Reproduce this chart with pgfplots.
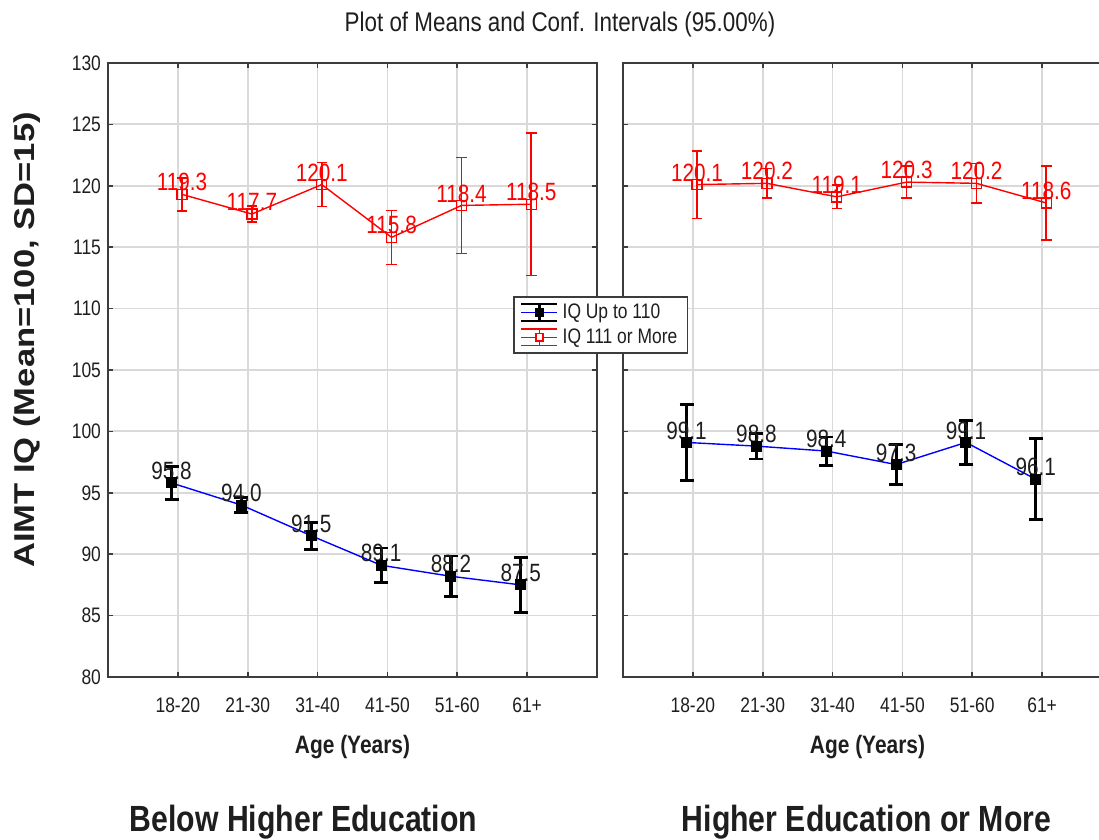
\documentclass[border=0pt]{standalone}
\usepackage{pgfplots}
\pgfplotsset{compat=1.18}
\usepackage{pgfplotstable}
\usepackage{fontspec}
\setmainfont{Liberation Sans}[FakeStretch=0.83]
\newfontfamily\plainfont{Liberation Sans}

\definecolor{gridgray}{RGB}{217,217,217}
\definecolor{framegray}{RGB}{60,60,60}
\definecolor{ired}{RGB}{255,0,0}
\definecolor{iblue}{RGB}{0,0,255}
\definecolor{txt}{RGB}{30,30,30}

% x = category position (1..6) with a small horizontal offset per series
\pgfplotstableread{
x y e
0.91 95.8 1.35
1.91 94.0 0.60
2.91 91.5 1.10
3.91 89.1 1.40
4.91 88.2 1.65
5.91 87.5 2.25
}\leftlow
\pgfplotstableread{
x y e
1.06 119.3 1.35
2.06 117.7 0.65
3.06 120.1 1.80
4.06 115.8 2.20
5.06 118.4 3.90
6.06 118.5 5.80
}\lefthigh
\pgfplotstableread{
x y e
0.91 99.1 3.10
1.91 98.8 1.05
2.91 98.4 1.15
3.91 97.3 1.65
4.91 99.1 1.80
5.91 96.1 3.30
}\rightlow
\pgfplotstableread{
x y e
1.06 120.1 2.75
2.06 120.2 1.20
3.06 119.1 0.95
4.06 120.3 1.30
5.06 120.2 1.60
6.06 118.6 3.00
}\righthigh

\pgfplotsset{
  /pgf/number format/assume math mode=true,
  panel/.style={
    scale only axis, width=244.5pt, height=307pt,
    xmin=0, xmax=7, ymin=80, ymax=130,
    xtick={1,2,3,4,5,6},
    xticklabels={18-20,21-30,31-40,41-50,51-60,61+},
    ytick={80,85,...,130},
    grid=major, major grid style={gridgray, line width=0.9pt},
    axis line style={framegray, line width=1pt},
    tick style={framegray, line width=0.8pt},
    tick align=inside, major tick length=2.5pt,
    ticklabel style={font=\fontsize{10.5}{12}\selectfont, text=txt},
    xticklabel style={yshift=-7pt},
    xlabel={\bfseries Age (Years)},
    xlabel style={font=\fontsize{12.6}{15}\selectfont, text=txt,
      at={(axis description cs:0.5,0)}, anchor=center, yshift=-35pt},
  },
  lowstyle/.style={iblue, line width=0.7pt, mark=square*, mark size=2.5pt,
    mark options={black, fill=black, line width=0.5pt},
    error bars/.cd, y dir=both, y explicit,
    error bar style={black, line width=1.6pt},
    error mark options={rotate=90, black, mark size=3.5pt, line width=1.4pt},
    /pgfplots/.cd},
  highstyle/.style={ired, line width=0.7pt, mark=square, mark size=2.5pt,
    mark options={ired, line width=0.7pt},
    error bars/.cd, y dir=both, y explicit,
    error bar style={ired, line width=0.85pt},
    error mark options={rotate=90, ired, mark size=2.6pt, line width=0.8pt},
    /pgfplots/.cd},
  labstyle/.style={draw=none, mark=none, forget plot,
    nodes near coords={\pgfmathprintnumber[fixed,fixed zerofill,precision=1]{\pgfplotspointmeta}},
    every node near coord/.style={anchor=center, yshift=6pt,
      font=\fontsize{12.5}{14}\selectfont, text=#1}},
  lowlegend/.style={legend image code/.code={
    \draw[iblue, line width=0.7pt] (0pt,0pt) -- (18pt,0pt);
    \draw[black, line width=1.4pt] (9pt,-4.2pt) -- (9pt,4.2pt);
    \draw[black, line width=1.2pt] (0pt,4.2pt) -- (18pt,4.2pt) (0pt,-4.2pt) -- (18pt,-4.2pt);
    \fill[black] (7.2pt,-1.8pt) rectangle (10.8pt,1.8pt);}},
  highlegend/.style={legend image code/.code={
    \draw[ired, line width=0.7pt] (0pt,0pt) -- (18pt,0pt);
    \draw[ired, line width=0.7pt] (9pt,-4.2pt) -- (9pt,4.2pt);
    \draw[ired, line width=0.7pt] (0pt,4.2pt) -- (18pt,4.2pt) (0pt,-4.2pt) -- (18pt,-4.2pt);
    \draw[ired, fill=white, line width=0.7pt] (7.2pt,-1.8pt) rectangle (10.8pt,1.8pt);}},
}

\begin{document}
\begin{tikzpicture}
\useasboundingbox (0,0) rectangle (549.5pt,420pt);
\clip (0,0) rectangle (549.5pt,420pt);

% left panel
\begin{axis}[panel, at={(54pt,81.5pt)}, anchor=south west]
  \addplot[labstyle=txt] table[x=x, y=y] {\leftlow};
  \addplot[labstyle=ired] table[x=x, y=y] {\lefthigh};
  \addplot[lowstyle] table[x=x, y=y, y error=e] {\leftlow};
  \addplot[highstyle] table[x=x, y=y, y error=e] {\lefthigh};
\end{axis}

% right panel (holds the legend so it is drawn on top)
\begin{axis}[panel, at={(311.5pt,81.5pt)}, anchor=south west,
    yticklabels={},
    legend style={at={(axis description cs:-0.224,0.6205)}, anchor=north west,
      draw=framegray, line width=0.8pt, fill=white,
      font=\fontsize{10.5}{12}\selectfont, text=txt,
      inner xsep=3pt, inner ysep=1.5pt, row sep=-0.5pt,
      cells={anchor=west}}]
  \addplot[labstyle=txt] table[x=x, y=y] {\rightlow};
  \addplot[labstyle=ired] table[x=x, y=y] {\righthigh};
  \addplot[lowlegend, lowstyle] table[x=x, y=y, y error=e] {\rightlow};
  \addlegendentry{IQ Up to 110}
  \addplot[highlegend, highstyle] table[x=x, y=y, y error=e] {\righthigh};
  \addlegendentry{IQ 111 or More}
\end{axis}

\node[font=\fontsize{13.5}{16}\selectfont, text=txt] at (280pt,407.5pt)
  {Plot of Means and Conf. Intervals (95.00\%)};
\node[rotate=90, font=\plainfont\bfseries\fontsize{17.3}{20}\selectfont, text=txt]
  at (13.5pt,250pt) {\scalebox{1}[0.83]{AIMT IQ (Mean=100, SD=15)}};
\node[anchor=base, font=\bfseries\fontsize{18.2}{21}\selectfont, text=txt]
  at (151.75pt,4.2pt) {Below Higher Education};
\node[anchor=base, font=\bfseries\fontsize{18.2}{21}\selectfont, text=txt]
  at (433.25pt,4.2pt) {Higher Education or More};
\end{tikzpicture}
\end{document}
